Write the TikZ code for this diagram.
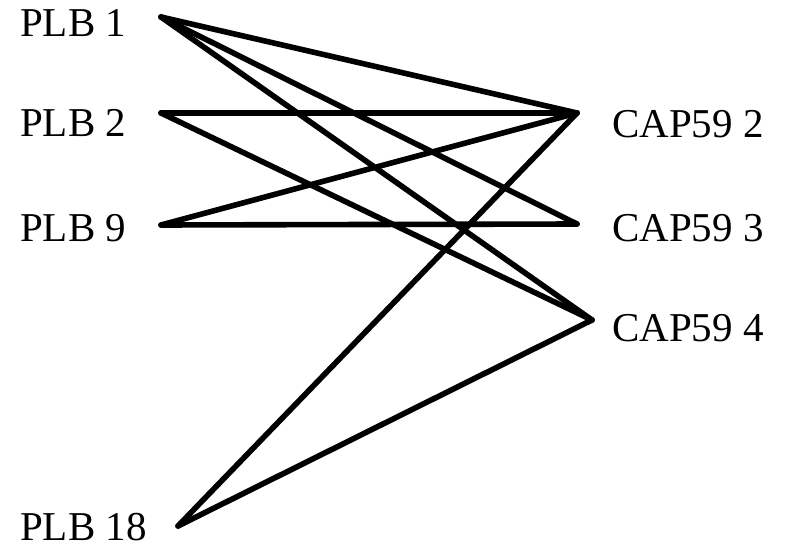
\documentclass[tikz,border=0pt]{standalone}
\usepackage{fontspec}
\setmainfont{Liberation Serif}
\usepackage{tikz}
\usetikzlibrary{positioning}

\begin{document}
\begin{tikzpicture}[
  x=1pt, y=-1pt,
  lbl/.style={font=\fontsize{41}{48}\selectfont, inner sep=0pt, anchor=west},
  edge/.style={black, line width=5.6pt, line cap=round, line join=round}
]
  \useasboundingbox (0,0) rectangle (786,556);

  % Left side: PLB ends
  \coordinate (p1)  at (161,17);
  \coordinate (p2)  at (161,113);
  \coordinate (p9)  at (161,225);
  \coordinate (p18) at (178,526);
  \node[lbl] (p1lbl)  at (20,23)  {PLB 1};
  \node[lbl] (p2lbl)  at (20,123) {PLB 2};
  \node[lbl] (p9lbl)  at (20,228) {PLB 9};
  \node[lbl] (p18lbl) at (20,527) {PLB 18};

  % Right side: CAP59 ends
  \coordinate (c2) at (577,113);
  \coordinate (c3) at (577,224);
  \coordinate (c4) at (592,320);
  \node[lbl] (c2lbl) at (612,124) {CAP59 2};
  \node[lbl] (c3lbl) at (612,228) {CAP59 3};
  \node[lbl] (c4lbl) at (612,328) {CAP59 4};

  % Links
  \draw[edge] (p1) -- (c2);
  \draw[edge] (p1) -- (c3);
  \draw[edge] (p1) -- (c4);
  \draw[edge] (p2) -- (c2);
  \draw[edge] (p2) -- (c4);
  \draw[edge] (p9) -- (c2);
  \draw[edge] (p9) -- (c3);
  \draw[edge] (p18) -- (c2);
  \draw[edge] (p18) -- (c4);
\end{tikzpicture}
\end{document}
